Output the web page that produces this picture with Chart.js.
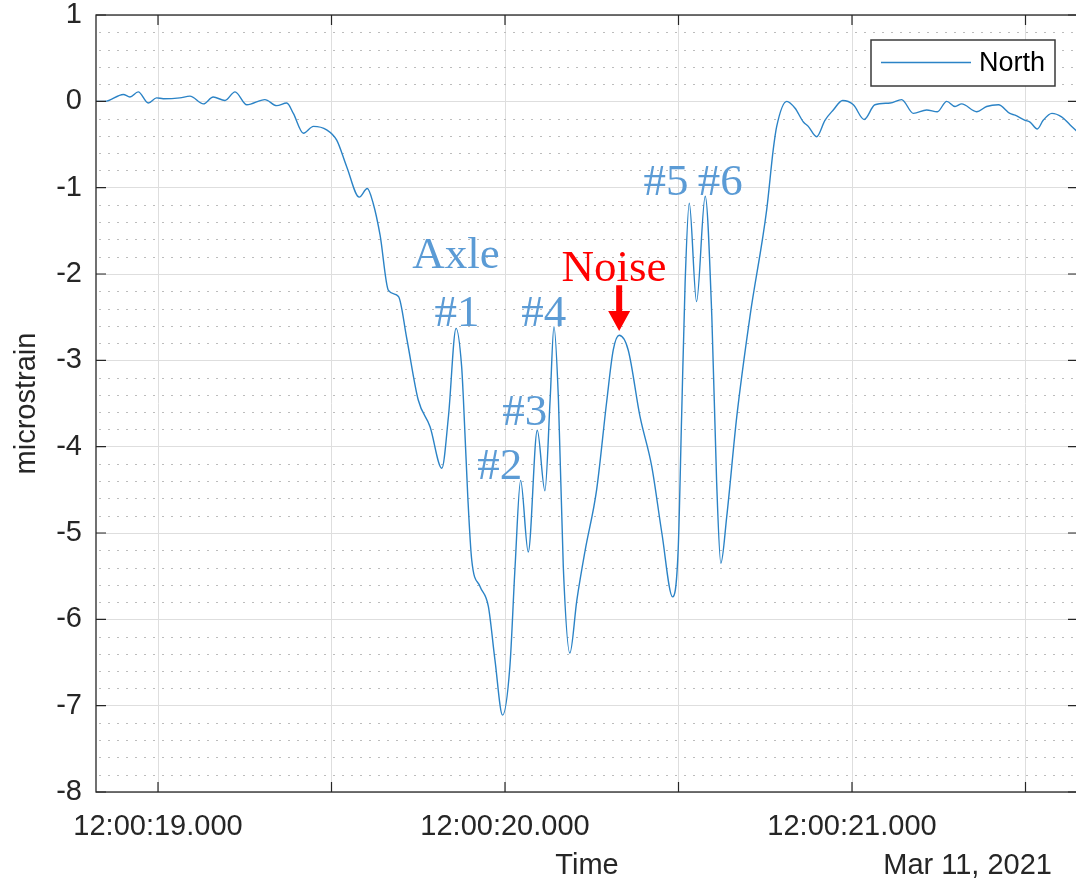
<!DOCTYPE html>
<html>
<head>
<meta charset="utf-8">
<script src="https://cdn.jsdelivr.net/npm/chart.js@4"></script>
<style>
  html, body { margin: 0; padding: 0; background: #fff; overflow: hidden; }
  #wrap { width: 1080px; height: 885px; position: relative; }
</style>
</head>
<body>
<div id="wrap"><canvas id="c" width="1080" height="885"></canvas></div>
<script>
// Strain record, North gauge. Time in seconds after 12:00:00.
const TIME_S = [
  18.821, 18.847, 18.900, 18.919, 18.943, 18.972, 18.996, 19.015, 19.063, 19.092,
  19.131, 19.159, 19.193, 19.222, 19.256, 19.308, 19.342, 19.371, 19.390, 19.419,
  19.448, 19.486, 19.515, 19.544, 19.580, 19.603, 19.620, 19.640, 19.664, 19.693,
  19.717, 19.750, 19.784, 19.818, 19.837, 19.859, 19.875, 19.880, 19.893, 19.904,
  19.928, 19.952, 19.971, 19.993, 20.014, 20.029, 20.045, 20.067, 20.093, 20.115,
  20.130, 20.141, 20.154, 20.168, 20.187, 20.207, 20.231, 20.264, 20.293, 20.312,
  20.329, 20.355, 20.389, 20.423, 20.452, 20.483, 20.499, 20.509, 20.519, 20.531,
  20.552, 20.577, 20.596, 20.610, 20.622, 20.639, 20.668, 20.706, 20.754, 20.773,
  20.783, 20.812, 20.836, 20.860, 20.874, 20.898, 20.922, 20.946, 20.973, 21.004,
  21.035, 21.066, 21.110, 21.143, 21.177, 21.215, 21.246, 21.273, 21.297, 21.316,
  21.359, 21.388, 21.422, 21.455, 21.470, 21.499, 21.513, 21.534, 21.551, 21.576,
  21.604, 21.628, 21.651
];
const STRAIN = [
  0.00, 0.00, 0.08, 0.05, 0.11, -0.02, 0.04, 0.03, 0.04, 0.06,
  -0.03, 0.05, 0.01, 0.11, -0.04, 0.02, -0.05, -0.02, -0.14, -0.37,
  -0.29, -0.33, -0.45, -0.76, -1.11, -1.01, -1.18, -1.55, -2.19, -2.26,
  -2.75, -3.46, -3.77, -4.25, -3.65, -2.63, -3.07, -3.44, -4.60, -5.31,
  -5.62, -5.85, -6.47, -7.11, -6.55, -5.39, -4.39, -5.22, -3.81, -4.51,
  -3.46, -2.61, -3.46, -5.39, -6.39, -5.78, -5.20, -4.50, -3.48, -2.88,
  -2.71, -2.88, -3.65, -4.23, -5.00, -5.74, -5.20, -3.65, -2.11, -1.18,
  -2.32, -1.10, -2.49, -4.42, -5.35, -4.81, -3.65, -2.49, -1.26, -0.56,
  -0.29, 0.00, -0.08, -0.24, -0.29, -0.41, -0.22, -0.10, 0.01, -0.04,
  -0.21, -0.04, -0.02, 0.02, -0.14, -0.10, -0.12, 0.00, -0.06, -0.03,
  -0.12, -0.06, -0.04, -0.14, -0.16, -0.22, -0.24, -0.32, -0.22, -0.14,
  -0.18, -0.27, -0.36
];
const SERIES_NAME = 'North';

// Axis ranges and ticks
const X_MIN = 18.8213;
const X_MAX = 21.6513;
const X_TICKS = [19, 19.5, 20, 20.5, 21, 21.5];
const Y_MIN = -8;
const Y_MAX = 1;
const Y_TICKS = [1, 0, -1, -2, -3, -4, -5, -6, -7, -8];
const Y_MINOR_STEP = 0.2;
const DATE_LABEL = 'Mar 11, 2021';

// Axle callouts (label, time, strain at text baseline)
const AXLE_LABELS = ['Axle', '#1', '#2', '#3', '#4', '#5', '#6'];
const AXLE_T = [19.859, 19.862, 19.985, 20.057, 20.112, 20.464, 20.620];
const AXLE_V = [-1.93, -2.60, -4.37, -3.75, -2.60, -1.085, -1.085];

// Noise callout and its arrow
const NOISE_LABEL = 'Noise';
const NOISE_T = 20.314;
const NOISE_V = -2.08;
const NOISE_ARROW_T = 20.329;
const NOISE_ARROW_FROM = -2.13;
const NOISE_ARROW_TO = -2.66;

const SANS = '"Liberation Sans", Arial, Helvetica, sans-serif';
const SERIF = '"Liberation Serif", "Times New Roman", serif';
const AXIS_COLOR = '#262626';
const LINE_COLOR = '#2b83c6';

function fmtTime(v) {
  const s = Math.round(v);
  return '12:00:' + String(s).padStart(2, '0') + '.000';
}

const decor = {
  id: 'decor',
  beforeDatasetsDraw(chart) {
    const { ctx, chartArea: a, scales: { y } } = chart;
    ctx.save();
    ctx.strokeStyle = '#bcbcbc';
    ctx.lineWidth = 1;
    ctx.setLineDash([2, 7]);
    const n = Math.round((Y_MAX - Y_MIN) / Y_MINOR_STEP);
    for (let i = 1; i < n; i++) {
      const v = Y_MIN + i * Y_MINOR_STEP;
      if (Math.abs(v - Math.round(v)) < 1e-6) continue;
      const py = Math.round(y.getPixelForValue(v)) + 0.5;
      ctx.beginPath();
      ctx.moveTo(a.left + 3, py);
      ctx.lineTo(a.right, py);
      ctx.stroke();
    }
    ctx.restore();
  },
  afterDatasetsDraw(chart) {
    const { ctx, chartArea: a, scales: { x, y } } = chart;
    ctx.save();

    // axes box
    ctx.strokeStyle = AXIS_COLOR;
    ctx.lineWidth = 1.3;
    ctx.strokeRect(a.left, a.top, a.right - a.left, a.bottom - a.top);

    // inward tick marks
    ctx.lineWidth = 1.2;
    ctx.beginPath();
    Y_TICKS.forEach(v => {
      const py = y.getPixelForValue(v);
      ctx.moveTo(a.left, py); ctx.lineTo(a.left + 10, py);
      ctx.moveTo(a.right, py); ctx.lineTo(a.right - 10, py);
    });
    X_TICKS.forEach(v => {
      const px = x.getPixelForValue(v);
      ctx.moveTo(px, a.bottom); ctx.lineTo(px, a.bottom - 10);
      ctx.moveTo(px, a.top); ctx.lineTo(px, a.top + 10);
    });
    ctx.stroke();

    // axle callouts
    ctx.fillStyle = '#5b9bd5';
    ctx.font = '45px ' + SERIF;
    ctx.textAlign = 'center';
    ctx.textBaseline = 'alphabetic';
    AXLE_LABELS.forEach((t, i) => {
      ctx.fillText(t, x.getPixelForValue(AXLE_T[i]), y.getPixelForValue(AXLE_V[i]));
    });

    // noise callout
    ctx.fillStyle = '#ff0000';
    ctx.fillText(NOISE_LABEL, x.getPixelForValue(NOISE_T), y.getPixelForValue(NOISE_V));
    const ax = x.getPixelForValue(NOISE_ARROW_T);
    const ay0 = y.getPixelForValue(NOISE_ARROW_FROM);
    const ay1 = y.getPixelForValue(NOISE_ARROW_TO);
    const headH = 20, headW = 11, shaftW = 3;
    ctx.beginPath();
    ctx.moveTo(ax - shaftW, ay0);
    ctx.lineTo(ax + shaftW, ay0);
    ctx.lineTo(ax + shaftW, ay1 - headH);
    ctx.lineTo(ax + headW, ay1 - headH);
    ctx.lineTo(ax, ay1);
    ctx.lineTo(ax - headW, ay1 - headH);
    ctx.lineTo(ax - shaftW, ay1 - headH);
    ctx.closePath();
    ctx.fill();

    // legend
    const lx0 = a.right - 207, ly0 = a.top + 25, lw = 184, lh = 46;
    ctx.fillStyle = '#ffffff';
    ctx.fillRect(lx0, ly0, lw, lh);
    ctx.strokeStyle = '#3a3a3a';
    ctx.lineWidth = 1.5;
    ctx.strokeRect(lx0, ly0, lw, lh);
    ctx.strokeStyle = LINE_COLOR;
    ctx.lineWidth = 1.4;
    ctx.beginPath();
    ctx.moveTo(lx0 + 10, ly0 + 22.5);
    ctx.lineTo(lx0 + 100, ly0 + 22.5);
    ctx.stroke();
    ctx.fillStyle = '#000000';
    ctx.font = '27px ' + SANS;
    ctx.textAlign = 'left';
    ctx.textBaseline = 'middle';
    ctx.fillText(chart.data.datasets[0].label, lx0 + 108, ly0 + 24);

    // date stamp under the time axis
    ctx.fillStyle = AXIS_COLOR;
    ctx.font = '29px ' + SANS;
    ctx.textAlign = 'right';
    ctx.fillText(DATE_LABEL, 1052, 866);
    ctx.restore();
  }
};

new Chart(document.getElementById('c'), {
  type: 'line',
  data: {
    datasets: [{
      label: SERIES_NAME,
      data: TIME_S.map((t, i) => ({ x: t, y: STRAIN[i] })),
      borderColor: LINE_COLOR,
      borderWidth: 1.4,
      pointRadius: 0,
      fill: false,
      cubicInterpolationMode: 'monotone'
    }]
  },
  options: {
    responsive: false,
    animation: false,
    devicePixelRatio: 1,
    layout: { padding: { top: 0, right: 2, left: 0, bottom: 0 } },
    plugins: { legend: { display: false }, tooltip: { enabled: false } },
    scales: {
      x: {
        type: 'linear',
        min: X_MIN,
        max: X_MAX,
        afterBuildTicks: s => { s.ticks = X_TICKS.map(v => ({ value: v })); },
        afterFit: s => { s.height = 93; s.paddingLeft = 0; s.paddingRight = 0; },
        ticks: {
          autoSkip: false,
          maxRotation: 0,
          padding: 18,
          color: AXIS_COLOR,
          font: { family: SANS, size: 29 },
          callback: v => (Number.isInteger(v) ? fmtTime(v) : '')
        },
        grid: { color: '#dedede', lineWidth: 1, drawTicks: false },
        border: { display: false },
        title: {
          display: true,
          text: 'Time',
          color: AXIS_COLOR,
          font: { family: SANS, size: 29 },
          padding: { top: 0, bottom: 2 }
        }
      },
      y: {
        min: Y_MIN,
        max: Y_MAX,
        afterBuildTicks: s => { s.ticks = Y_TICKS.map(v => ({ value: v })); },
        afterFit: s => { s.width = 96; s.paddingTop = 15; s.paddingBottom = 0; },
        ticks: {
          autoSkip: false,
          padding: 14,
          color: AXIS_COLOR,
          font: { family: SANS, size: 29 },
          callback: v => String(v)
        },
        grid: { color: '#dedede', lineWidth: 1, drawTicks: false },
        border: { display: false },
        title: {
          display: true,
          text: 'microstrain',
          color: AXIS_COLOR,
          font: { family: SANS, size: 29 },
          padding: { top: 10, bottom: 0 }
        }
      }
    }
  },
  plugins: [decor]
});
</script>
</body>
</html>
